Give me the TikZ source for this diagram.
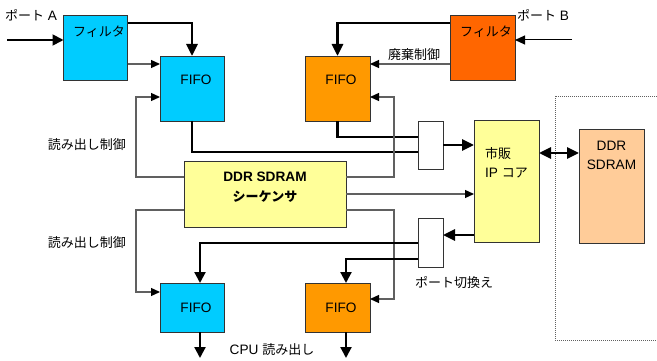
\documentclass[tikz,border=0pt]{standalone}
\usepackage{fontspec}
\setmainfont{Liberation Sans}[Scale=1.05]
\newfontfamily\jp{Noto Sans CJK JP}
\usetikzlibrary{arrows.meta}
\definecolor{cblue}{HTML}{00CCFF}
\definecolor{cred}{HTML}{FF6600}
\definecolor{corange}{HTML}{FF9900}
\definecolor{cyel}{HTML}{FFFF99}
\definecolor{cpeach}{HTML}{FFCC99}
\definecolor{bd}{HTML}{333333}
\definecolor{gl}{HTML}{606060}
\begin{document}
\begin{tikzpicture}[x=1pt,y=-1pt,
  font=\fontsize{13}{15}\selectfont,
  box/.style={draw=bd, line width=0.8pt, inner sep=0pt, outer sep=0pt},
  txt/.style={inner sep=0pt},
  thk/.style={line width=2.8pt, -{Triangle[length=12pt,width=11pt]}},
  mid/.style={line width=2.2pt},
  midarr/.style={mid, -{Triangle[length=11pt,width=11pt]}},
  thinarr/.style={line width=1pt, -{Triangle[length=10pt,width=9pt]}},
  ctl/.style={draw=gl, line width=1.2pt, -{Triangle[length=9pt,width=8pt,color=black]}},
  dbl/.style={line width=2.8pt, {Triangle[length=12pt,width=11pt]}-{Triangle[length=12pt,width=11pt]}}
]
\useasboundingbox (0,0) rectangle (657,361);

% boxes
\node[box, fill=cblue, minimum width=64pt, minimum height=65pt] (fa) at (95.5,47.5) {};
\node[box, fill=cblue, minimum width=64pt, minimum height=65pt] (fifoA) at (192,88.5) {};
\node[box, fill=cred, minimum width=65pt, minimum height=65pt] (fb) at (482.5,47.5) {};
\node[box, fill=corange, minimum width=65pt, minimum height=65pt] (fifoB) at (337.5,88.5) {};
\node[box, fill=cyel, minimum width=162pt, minimum height=66pt] (seq) at (265,194) {};
\node[box, fill=white, minimum width=25pt, minimum height=48pt] (muxT) at (430.5,145) {};
\node[box, fill=cyel, minimum width=65pt, minimum height=122pt] (ip) at (506.5,181) {};
\node[box, fill=cpeach, minimum width=65pt, minimum height=114pt] (ddr) at (611.5,186) {};
\node[box, fill=white, minimum width=25pt, minimum height=49pt] (muxB) at (430.5,242.5) {};
\node[box, fill=cblue, minimum width=64pt, minimum height=49pt] (fifoC) at (192,307.5) {};
\node[box, fill=corange, minimum width=65pt, minimum height=49pt] (fifoD) at (337.5,307.5) {};

% dotted enclosure
\draw[gl, line width=0.8pt, dash pattern=on 1pt off 1pt] (657,96) -- (555,96) -- (555,340) -- (657,340);

% texts in boxes
\node[txt] (tfa) at (99,32) {\jp フィルタ};
\node[txt] (tfb) at (486,32) {\jp フィルタ};
\node[txt] (tfifoA) at (196,80) {FIFO};
\node[txt] (tfifoB) at (341,80) {FIFO};
\node[txt] (tfifoC) at (196,308) {FIFO};
\node[txt] (tfifoD) at (341,308) {FIFO};
\node[txt, font=\fontsize{13}{15}\selectfont\bfseries] (tseq1) at (265,177) {DDR SDRAM};
\node[txt] (tseq2) at (265,197) {\jp\bfseries シーケンサ};
\node[txt, anchor=west] (tip1) at (485,154) {\jp 市販};
\node[txt, anchor=west] (tip2) at (485,173) {IP {\jp コア}};
\node[txt] (tddr1) at (611.5,146) {DDR};
\node[txt] (tddr2) at (611.5,165) {SDRAM};

% labels
\node[txt] (lpa) at (31,15) {{\jp ポート} A};
\node[txt] (lpb) at (543,15) {{\jp ポート} B};
\node[txt] (lrc1) at (87,145) {\jp 読み出し制御};
\node[txt] (lrc2) at (87,243) {\jp 読み出し制御};
\node[txt] (ldisc) at (414,55) {\jp 廃棄制御};
\node[txt] (lsw) at (454,283) {\jp ポート切換え};
\node[txt] (lcpu) at (272,350) {CPU {\jp 読み出し}};

% connectors
\coordinate (pa) at (7,40);
\draw[midarr, line width=1.8pt] (pa) -- (pa -| fa.west);
\draw[thk] ([yshift=-8pt]fa.north east) -| (fifoA.north);
\coordinate (fa2) at ([yshift=16pt]fa.south east);
\draw[ctl] (fa2) -- (fa2 -| fifoA.west);

\coordinate (s1) at ([yshift=-16pt]seq.north west);
\coordinate (a1) at ([yshift=-41pt]fifoA.north west);
\draw[ctl] (s1) -- ++(-48,0) |- (a1);

\draw[mid] (fifoA.south) |- ([yshift=-31pt]muxT.north west);
\draw[mid] (fifoB.south) |- ([yshift=-16pt]muxT.north west);
\draw[thk] (muxT.east) -- (muxT.east -| ip.west);

\draw[thk] ([yshift=-8pt]fb.north west) -| (fifoB.north);
\coordinate (fb2) at ([yshift=16pt]fb.south west);
\draw[ctl] (fb2) -- (fb2 -| fifoB.east);
\coordinate (pb) at (572,40);
\draw[thinarr] (pb) -- (pb -| fb.east);

\coordinate (s2) at ([yshift=-16pt]seq.north east);
\coordinate (b1) at ([yshift=-41pt]fifoB.north east);
\draw[ctl] (s2) -- ++(48,0) |- (b1);
\draw[ctl] (seq.east) -- (seq.east -| ip.west);

\coordinate (s3) at ([yshift=17pt]seq.south west);
\coordinate (c1) at ([yshift=-9pt]fifoC.north west);
\draw[ctl] (s3) -- ++(-48,0) |- (c1);
\coordinate (s4) at ([yshift=17pt]seq.south east);
\coordinate (d1) at ([yshift=-16pt]fifoD.north east);
\draw[ctl] (s4) -- ++(48,0) |- (d1);

\coordinate (ip2) at ([yshift=7pt]ip.south west);
\draw[thk] (ip2) -- (ip2 -| muxB.east);
\draw[midarr] ([yshift=-25pt]muxB.north west) -| ([xshift=8pt]fifoC.north);
\draw[midarr] ([yshift=-41pt]muxB.north west) -| ([xshift=8.5pt]fifoD.north);

\coordinate (o1) at (200,358);
\draw[midarr] ([xshift=8pt]fifoC.south) -- (o1);
\coordinate (o2) at (346,358);
\draw[midarr] ([xshift=8.5pt]fifoD.south) -- (o2);

\coordinate (i3) at ([yshift=-33pt]ip.north east);
\draw[dbl] (i3) -- (i3 -| ddr.west);
\end{tikzpicture}
\end{document}
